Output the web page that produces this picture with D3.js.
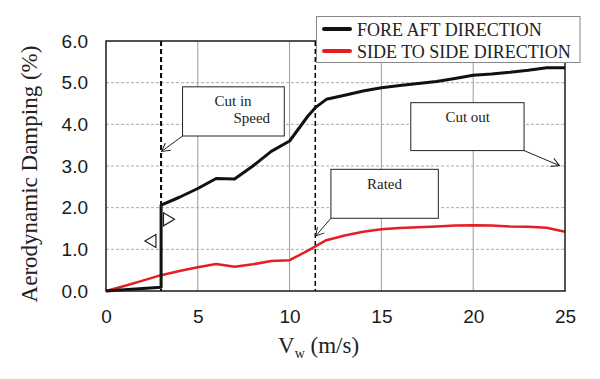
<!DOCTYPE html>
<html>
<head>
<meta charset="utf-8">
<script src="https://cdn.jsdelivr.net/npm/d3@7"></script>
<style>
  html, body { margin: 0; padding: 0; background: #fff; }
  svg { display: block; }
</style>
</head>
<body>
<svg id="chart" width="600" height="379"></svg>
<script>
// ---- data ----
const seriesNames = ["FORE AFT DIRECTION", "SIDE TO SIDE DIRECTION"];
const foreAftX = [0, 3, 3, 4, 5, 6, 7, 8, 9, 10, 11, 11.4, 12, 13, 14, 15, 16, 17, 18, 19, 20, 21, 22, 23, 24, 25];
const foreAftY = [0, 0.09, 2.06, 2.25, 2.46, 2.70, 2.69, 3.00, 3.35, 3.60, 4.20, 4.40, 4.60, 4.70, 4.80, 4.88, 4.93, 4.98, 5.03, 5.10, 5.18, 5.21, 5.25, 5.30, 5.36, 5.36];
const sideX = [0, 1, 2, 3, 4, 5, 6, 7, 8, 9, 10, 11, 11.4, 12, 13, 14, 15, 16, 17, 18, 19, 20, 21, 22, 23, 24, 25];
const sideY = [0, 0.12, 0.25, 0.38, 0.48, 0.57, 0.65, 0.58, 0.64, 0.72, 0.74, 0.97, 1.07, 1.22, 1.33, 1.42, 1.48, 1.51, 1.53, 1.55, 1.57, 1.58, 1.57, 1.55, 1.54, 1.52, 1.42];
const xTicks = [0, 5, 10, 15, 20, 25];
const yTicks = [0, 1, 2, 3, 4, 5, 6];
const markerSpeeds = [3, 11.4];   // cut-in and rated speeds (dashed verticals)

// ---- layout ----
const W = 600, H = 379;
const m = { left: 106, top: 41, right: 35, bottom: 88 };
const iw = W - m.left - m.right, ih = H - m.top - m.bottom;
const svg = d3.select("#chart");
const x = d3.scaleLinear().domain([0, 25]).range([m.left, m.left + iw]);
const y = d3.scaleLinear().domain([0, 6]).range([m.top + ih, m.top]);

const SANS = "'Liberation Sans', Arial, sans-serif";
const SERIF = "'Liberation Serif', 'Times New Roman', serif";

// gridlines
const g = svg.append("g");
g.selectAll(".vg").data(xTicks.filter(d => d > 0 && d < 25)).join("line")
  .attr("x1", d => x(d)).attr("x2", d => x(d)).attr("y1", y(0)).attr("y2", y(6))
  .attr("stroke", "#9a9a9a").attr("stroke-width", 1);
g.selectAll(".hg").data(yTicks.filter(d => d > 0 && d < 6)).join("line")
  .attr("x1", x(0)).attr("x2", x(25)).attr("y1", d => y(d)).attr("y2", d => y(d))
  .attr("stroke", "#aaaaaa").attr("stroke-width", 1).attr("stroke-dasharray", "3,2");

// axes (labels only)
const xAxis = svg.append("g").attr("transform", `translate(0,${y(0)})`)
  .call(d3.axisBottom(x).tickValues(xTicks).tickSize(0).tickPadding(19).tickFormat(d3.format("d")));
const yAxis = svg.append("g").attr("transform", `translate(${x(0)},0)`)
  .call(d3.axisLeft(y).tickValues(yTicks).tickSize(0).tickPadding(18).tickFormat(d3.format(".1f")));
[xAxis, yAxis].forEach(a => {
  a.select(".domain").remove();
  a.selectAll("text").attr("font-family", SANS).attr("font-size", 19).attr("fill", "#1a1a1a");
});

// dashed vertical speed markers
svg.selectAll(".sp").data(markerSpeeds).join("line")
  .attr("x1", d => x(d)).attr("x2", d => x(d)).attr("y1", y(6)).attr("y2", y(0))
  .attr("stroke", "#000").attr("stroke-width", (d, i) => i === 0 ? 2 : 1.5)
  .attr("stroke-dasharray", "5,3");

// annotation arrows & boxes
const defs = svg.append("defs");
defs.append("marker").attr("id", "arr").attr("markerUnits", "userSpaceOnUse")
  .attr("viewBox", "-10 -6 12 12").attr("refX", 0).attr("refY", 0)
  .attr("markerWidth", 12).attr("markerHeight", 12).attr("orient", "auto")
  .append("path").attr("d", "M-8,-4.5 L0,0 L-8,4.5").attr("fill", "none")
  .attr("stroke", "#222").attr("stroke-width", 1);

const notes = [
  { lines: ["Cut in", "Speed"], box: [4.17, 4.90, 9.71, 3.72], from: [4.17, 3.72], to: [3.03, 3.35],
    text: [[6.92, 4.44, "middle"], [7.94, 4.04, "middle"]] },
  { lines: ["Cut out"], box: [16.6, 4.52, 22.77, 3.37], from: [22.77, 3.37], to: [24.7, 3.01],
    text: [[19.7, 4.06, "middle"]] },
  { lines: ["Rated"], box: [12.25, 2.92, 18.1, 1.745], from: [12.25, 1.745], to: [11.42, 1.32],
    text: [[15.17, 2.46, "middle"]] }
];
notes.forEach(n => {
  svg.append("line").attr("x1", x(n.from[0])).attr("y1", y(n.from[1]))
    .attr("x2", x(n.to[0])).attr("y2", y(n.to[1]))
    .attr("stroke", "#222").attr("stroke-width", 1).attr("marker-end", "url(#arr)");
  svg.append("rect").attr("x", x(n.box[0])).attr("y", y(n.box[1]))
    .attr("width", x(n.box[2]) - x(n.box[0])).attr("height", y(n.box[3]) - y(n.box[1]))
    .attr("fill", "#fff").attr("stroke", "#222").attr("stroke-width", 1);
  n.lines.forEach((t, i) => {
    svg.append("text").attr("x", x(n.text[i][0])).attr("y", y(n.text[i][1]))
      .attr("text-anchor", n.text[i][2]).attr("font-family", SERIF).attr("font-size", 15)
      .attr("fill", "#222").text(t);
  });
});

// series lines
const line = d3.line().x(d => x(d[0])).y(d => y(d[1]));
svg.append("path").datum(d3.zip(sideX, sideY)).attr("d", line)
  .attr("fill", "none").attr("stroke", "#e31e24").attr("stroke-width", 2.5).attr("stroke-linejoin", "round");
svg.append("path").datum(d3.zip(foreAftX, foreAftY)).attr("d", line)
  .attr("fill", "none").attr("stroke", "#111").attr("stroke-width", 3).attr("stroke-linejoin", "round");

// small triangles near cut-in
const tri = [
  { cx: 2.42, cy: 1.2, dir: -1 },
  { cx: 3.43, cy: 1.72, dir: 1 }
];
tri.forEach(t => {
  const px = x(t.cx), py = y(t.cy);
  const d = `M${px - 5.5 * t.dir},${py - 6.5} L${px + 5.5 * t.dir},${py} L${px - 5.5 * t.dir},${py + 6.5} Z`;
  svg.append("path").attr("d", d).attr("fill", "none").attr("stroke", "#222").attr("stroke-width", 1.2);
});

// frame
svg.append("rect").attr("x", x(0)).attr("y", y(6)).attr("width", iw).attr("height", ih)
  .attr("fill", "none").attr("stroke", "#1a1a1a").attr("stroke-width", 1.5);

// legend
const lg = svg.append("g");
lg.append("rect").attr("x", 316.5).attr("y", 16.5).attr("width", 263.5).attr("height", 46)
  .attr("fill", "#fff").attr("stroke", "#888").attr("stroke-width", 1);
const lgColors = ["#111", "#e31e24"];
seriesNames.forEach((s, i) => {
  const ly = 29 + i * 22;
  lg.append("line").attr("x1", 324).attr("x2", 350).attr("y1", ly).attr("y2", ly)
    .attr("stroke", lgColors[i]).attr("stroke-width", 4).attr("stroke-linecap", "round");
  lg.append("text").attr("x", 357).attr("y", ly + 7).attr("font-family", SERIF)
    .attr("font-size", 18).attr("fill", "#222").text(s);
});

// axis titles
svg.append("text").attr("transform", `translate(37,${(y(0) + y(6)) / 2 + 8}) rotate(-90)`)
  .attr("text-anchor", "middle").attr("font-family", SERIF).attr("font-size", 23)
  .attr("fill", "#222").text("Aerodynamic Damping (%)");
const xt = svg.append("text").attr("x", 278).attr("y", 353).attr("font-family", SERIF)
  .attr("font-size", 23).attr("fill", "#222");
xt.append("tspan").text("V");
xt.append("tspan").attr("font-size", 14).attr("dy", 5).text("w");
xt.append("tspan").attr("dy", -5).text(" (m/s)");
</script>
</body>
</html>
